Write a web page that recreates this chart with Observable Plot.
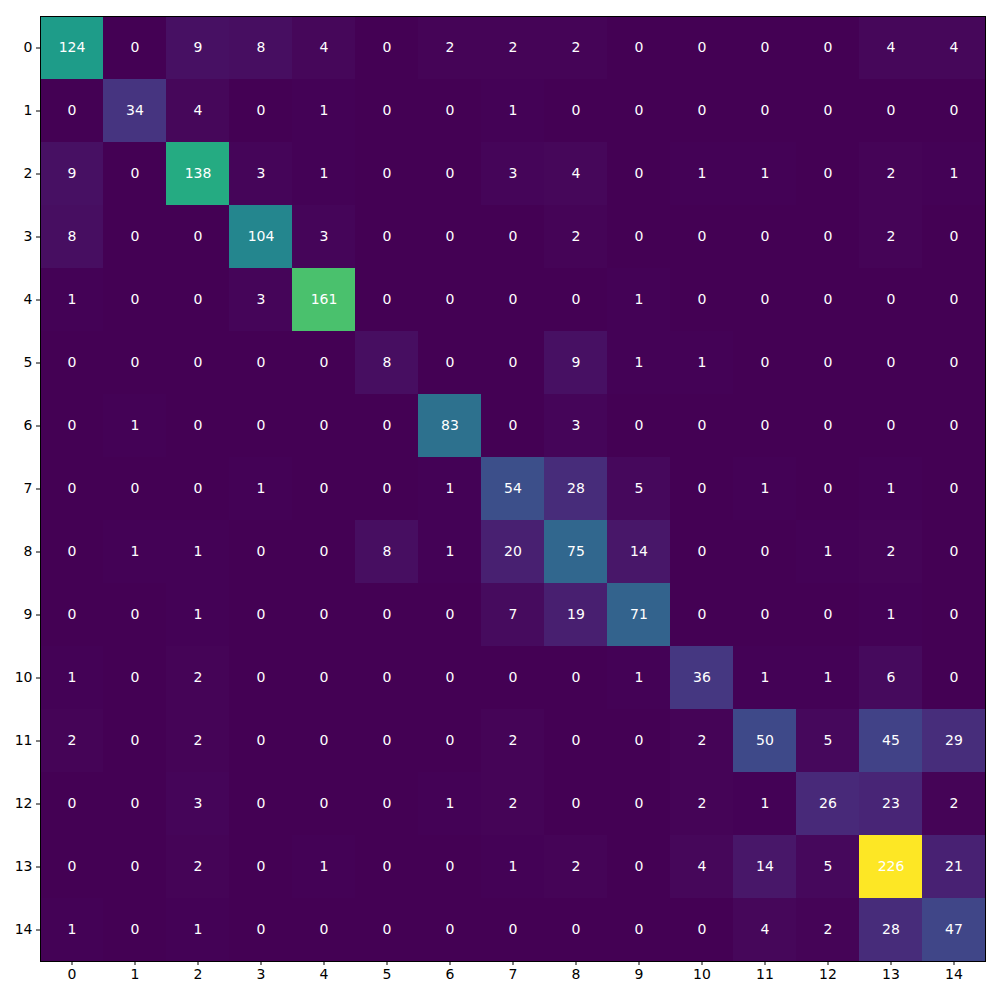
<!DOCTYPE html>
<html>
<head>
<meta charset="utf-8">
<script src="https://cdn.jsdelivr.net/npm/d3@7"></script>
<script src="https://cdn.jsdelivr.net/npm/@observablehq/plot@0.6"></script>
<style>
  html, body { margin: 0; padding: 0; background: white; }
  #chart svg { display: block; }
</style>
</head>
<body>
<div id="chart"></div>
<script>
const labels = [0,1,2,3,4,5,6,7,8,9,10,11,12,13,14];
const row0  = [124,0,9,8,4,0,2,2,2,0,0,0,0,4,4];
const row1  = [0,34,4,0,1,0,0,1,0,0,0,0,0,0,0];
const row2  = [9,0,138,3,1,0,0,3,4,0,1,1,0,2,1];
const row3  = [8,0,0,104,3,0,0,0,2,0,0,0,0,2,0];
const row4  = [1,0,0,3,161,0,0,0,0,1,0,0,0,0,0];
const row5  = [0,0,0,0,0,8,0,0,9,1,1,0,0,0,0];
const row6  = [0,1,0,0,0,0,83,0,3,0,0,0,0,0,0];
const row7  = [0,0,0,1,0,0,1,54,28,5,0,1,0,1,0];
const row8  = [0,1,1,0,0,8,1,20,75,14,0,0,1,2,0];
const row9  = [0,0,1,0,0,0,0,7,19,71,0,0,0,1,0];
const row10 = [1,0,2,0,0,0,0,0,0,1,36,1,1,6,0];
const row11 = [2,0,2,0,0,0,0,2,0,0,2,50,5,45,29];
const row12 = [0,0,3,0,0,0,1,2,0,0,2,1,26,23,2];
const row13 = [0,0,2,0,1,0,0,1,2,0,4,14,5,226,21];
const row14 = [1,0,1,0,0,0,0,0,0,0,0,4,2,28,47];
const rows = [row0,row1,row2,row3,row4,row5,row6,row7,row8,row9,row10,row11,row12,row13,row14];

const data = [];
rows.forEach((r, i) => r.forEach((v, j) => data.push({actual: labels[i], pred: labels[j], value: v})));
const vmax = d3.max(data, d => d.value);
const vmin = d3.min(data, d => d.value);

const chart = Plot.plot({
  width: 1000,
  height: 1000,
  marginLeft: 40,
  marginTop: 16,
  marginRight: 15,
  marginBottom: 39,
  style: {fontFamily: "DejaVu Sans", fontSize: "14px", color: "black", background: "white"},
  x: {type: "band", domain: labels, padding: 0, label: null, tickSize: 4, tickPadding: 4},
  y: {type: "band", domain: labels, padding: 0, label: null, tickSize: 4, tickPadding: 4},
  color: {type: "linear", scheme: "viridis", domain: [vmin, vmax]},
  marks: [
    Plot.cell(data, {x: "pred", y: "actual", fill: "value", inset: 0}),
    Plot.text(data, {x: "pred", y: "actual", text: d => String(d.value), fill: "white", fontSize: 14}),
    Plot.frame({stroke: "black", strokeWidth: 1})
  ]
});
document.getElementById("chart").appendChild(chart);
</script>
</body>
</html>
